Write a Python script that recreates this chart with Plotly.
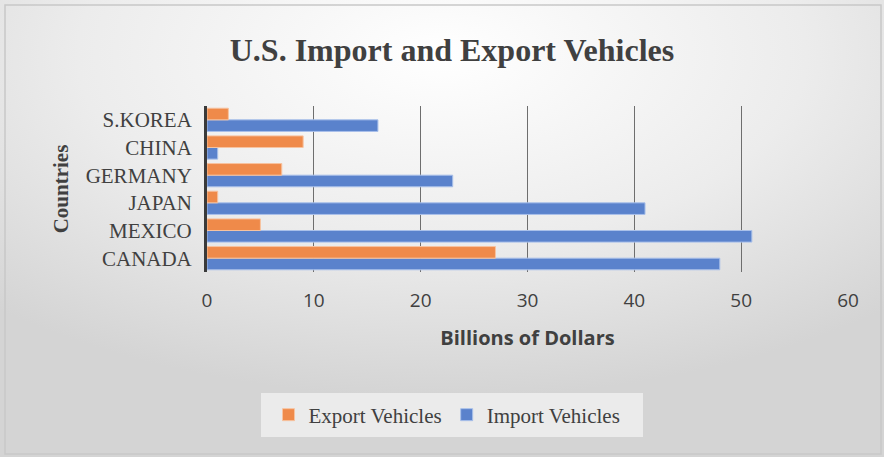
import base64
import plotly.graph_objects as go

countries = ["CANADA", "MEXICO", "JAPAN", "GERMANY", "CHINA", "S.KOREA"]
export_vals = [27, 5, 1, 7, 9, 2]
import_vals = [48, 51, 41, 23, 1, 16]
x_ticks = [0, 10, 20, 30, 40, 50, 60]

W, H = 884, 457
ML, MR, MT, MB = 207, 36, 106, 185
PW, PH = W - ML - MR, H - MT - MB

TEXT = "#404040"
SERIF = "Liberation Serif, Times New Roman, serif"
SANS = "Open Sans, Calibri, sans-serif"

# soft radial backdrop, bright near the title and greyer toward the corners
svg = f"""<svg xmlns='http://www.w3.org/2000/svg' width='{W}' height='{H}' viewBox='0 0 {W} {H}' preserveAspectRatio='none'>
<defs><radialGradient id='g' cx='0.5' cy='0.12' r='0.75' gradientUnits='objectBoundingBox'>
<stop offset='0' stop-color='#ffffff'/><stop offset='0.55' stop-color='#ececec'/><stop offset='1' stop-color='#d4d4d4'/>
</radialGradient></defs><rect x='0' y='0' width='{W}' height='{H}' fill='url(#g)'/></svg>"""
bg_src = "data:image/svg+xml;base64," + base64.b64encode(svg.encode()).decode()

fig = go.Figure()
fig.add_trace(go.Bar(
    y=countries, x=import_vals, name="Import Vehicles", orientation="h",
    marker=dict(color="#5a82cc", line=dict(color="#a9c0ea", width=1)),
))
fig.add_trace(go.Bar(
    y=countries, x=export_vals, name="Export Vehicles", orientation="h",
    marker=dict(color="#ef8a4a", line=dict(color="#f7c3a0", width=1)),
))


def px_x(px):
    return (px - ML) / PW


def px_y(py):
    return 1 - (py - MT) / PH


# whole-figure backdrop
fig.add_layout_image(dict(
    source=bg_src, xref="paper", yref="paper", x=px_x(0), y=px_y(0),
    sizex=W / PW, sizey=H / PH, sizing="stretch", layer="below",
    xanchor="left", yanchor="top",
))
# thin outer frame
fig.add_shape(type="rect", xref="paper", yref="paper",
              x0=px_x(5), x1=px_x(881), y0=px_y(454), y1=px_y(5),
              line=dict(color="#c8c8c8", width=1.5), layer="below")
# legend panel
fig.add_shape(type="rect", xref="paper", yref="paper",
              x0=px_x(261), x1=px_x(643), y0=px_y(437), y1=px_y(393),
              line=dict(width=0), fillcolor="#ebebeb", layer="below")

fig.update_layout(
    width=W, height=H,
    margin=dict(l=ML, r=MR, t=MT, b=MB),
    paper_bgcolor="white", plot_bgcolor="rgba(0,0,0,0)",
    barmode="group", bargap=0.16, bargroupgap=0.0,
    title=dict(text="<b>U.S. Import and Export Vehicles</b>",
               x=452 / W, xanchor="center", y=1 - 50 / H, yanchor="middle",
               font=dict(family=SERIF, size=32, color=TEXT)),
    xaxis=dict(range=[0, 60], tickvals=x_ticks, showgrid=True,
               gridcolor="#6e6e6e", gridwidth=1, zeroline=False,
               showline=False, ticks="", ticklabelstandoff=15,
               tickfont=dict(family=SANS, size=19, color=TEXT),
               title=dict(text="<b>Billions of Dollars</b>", standoff=18,
                          font=dict(family=SANS, size=20, color=TEXT))),
    yaxis=dict(categoryorder="array", categoryarray=countries,
               showline=True, linecolor="#3a3a3a", linewidth=3,
               showgrid=False, ticks="", ticklabelstandoff=8,
               tickfont=dict(family=SERIF, size=21, color=TEXT),
               title=dict(text="<b>Countries</b>", standoff=12,
                          font=dict(family=SERIF, size=21, color=TEXT))),
    legend=dict(orientation="h", traceorder="reversed",
                xref="container", yref="container",
                x=447 / W, xanchor="center", y=1 - 415 / H, yanchor="middle",
                bgcolor="rgba(0,0,0,0)", font=dict(family=SERIF, size=21, color=TEXT),
                itemwidth=30),
    showlegend=True,
)

fig.write_html("out.html")
